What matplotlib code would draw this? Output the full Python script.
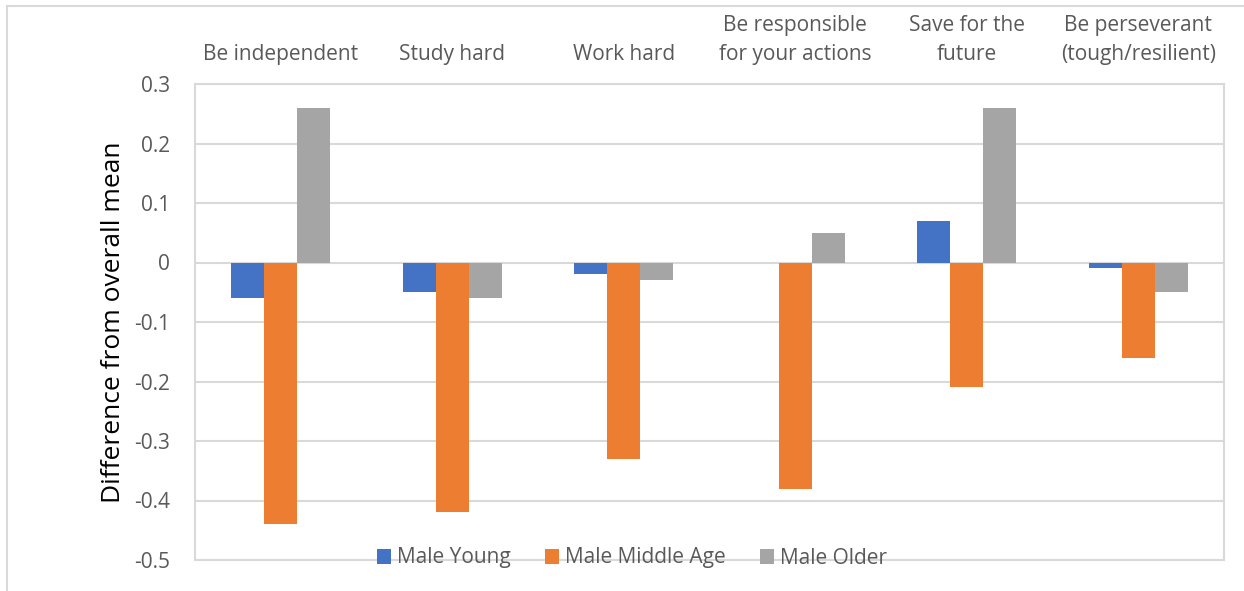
import matplotlib.pyplot as plt
import numpy as np

categories = ["Be independent", "Study hard", "Work hard",
              "Be responsible\nfor your actions", "Save for the\nfuture",
              "Be perseverant\n(tough/resilient)"]
male_young = [-0.06, -0.05, -0.02, 0.0, 0.07, -0.01]
male_middle = [-0.44, -0.42, -0.33, -0.38, -0.21, -0.16]
male_older = [0.26, -0.06, -0.03, 0.05, 0.26, -0.05]
series_names = ["Male Young", "Male Middle Age", "Male Older"]
yticks = [0.3, 0.2, 0.1, 0, -0.1, -0.2, -0.3, -0.4, -0.5]

plt.rcParams['font.family'] = ['Open Sans', 'DejaVu Sans']
txt = '#595959'
grid = '#D9D9D9'

fig = plt.figure(figsize=(12.44, 5.91), dpi=100)
W, H = 1244, 591
# plot area in pixels: x 195..1224, y 84..560
ax = fig.add_axes([195 / W, 1 - 560 / H, (1224 - 195) / W, (560 - 84) / H])

x = np.arange(len(categories))
w = 0.193
colors = ['#4472C4', '#ED7D31', '#A5A5A5']
for i, (vals, name) in enumerate(zip([male_young, male_middle, male_older], series_names)):
    ax.bar(x + (i - 1) * w, vals, w, color=colors[i], label=name, zorder=3)

ax.set_xlim(-0.5, len(categories) - 0.5)
ax.set_ylim(-0.5, 0.3)
ax.set_yticks(yticks)
ax.set_yticklabels([f"{t:g}" for t in yticks], color=txt, fontsize=15)
ax.yaxis.grid(True, color=grid, linewidth=1.5, zorder=0)
ax.tick_params(axis='y', length=0, pad=18)
ax.tick_params(axis='x', length=0, pad=14)
ax.xaxis.tick_top()
ax.set_xticks(x)
ax.set_xticklabels(categories, color=txt, fontsize=15, linespacing=1.5)
for s in ax.spines.values():
    s.set_color(grid)
    s.set_linewidth(1.5)

ax.set_ylabel("Difference from overall mean", fontsize=19, color='black', labelpad=6)

leg = fig.legend(loc='center', bbox_to_anchor=(632 / W, 1 - 558 / H), ncol=3, frameon=False,
                 fontsize=15, handlelength=0.7, handleheight=0.7, handletextpad=0.3,
                 columnspacing=1.6, labelcolor=txt, borderaxespad=0)

# outer chart border (cropped chart area) and cut-off title
fig.add_artist(plt.Line2D([7 / W, 7 / W], [0, 1 - 6 / H], color=grid, linewidth=1.5))
fig.add_artist(plt.Line2D([7 / W, 1], [1 - 6 / H, 1 - 6 / H], color=grid, linewidth=1.5))
fig.text(815 / W, 1 + 14 / H, "g", fontsize=20, color='black', ha='center', va='baseline')

fig.savefig("out.png", dpi=100)
